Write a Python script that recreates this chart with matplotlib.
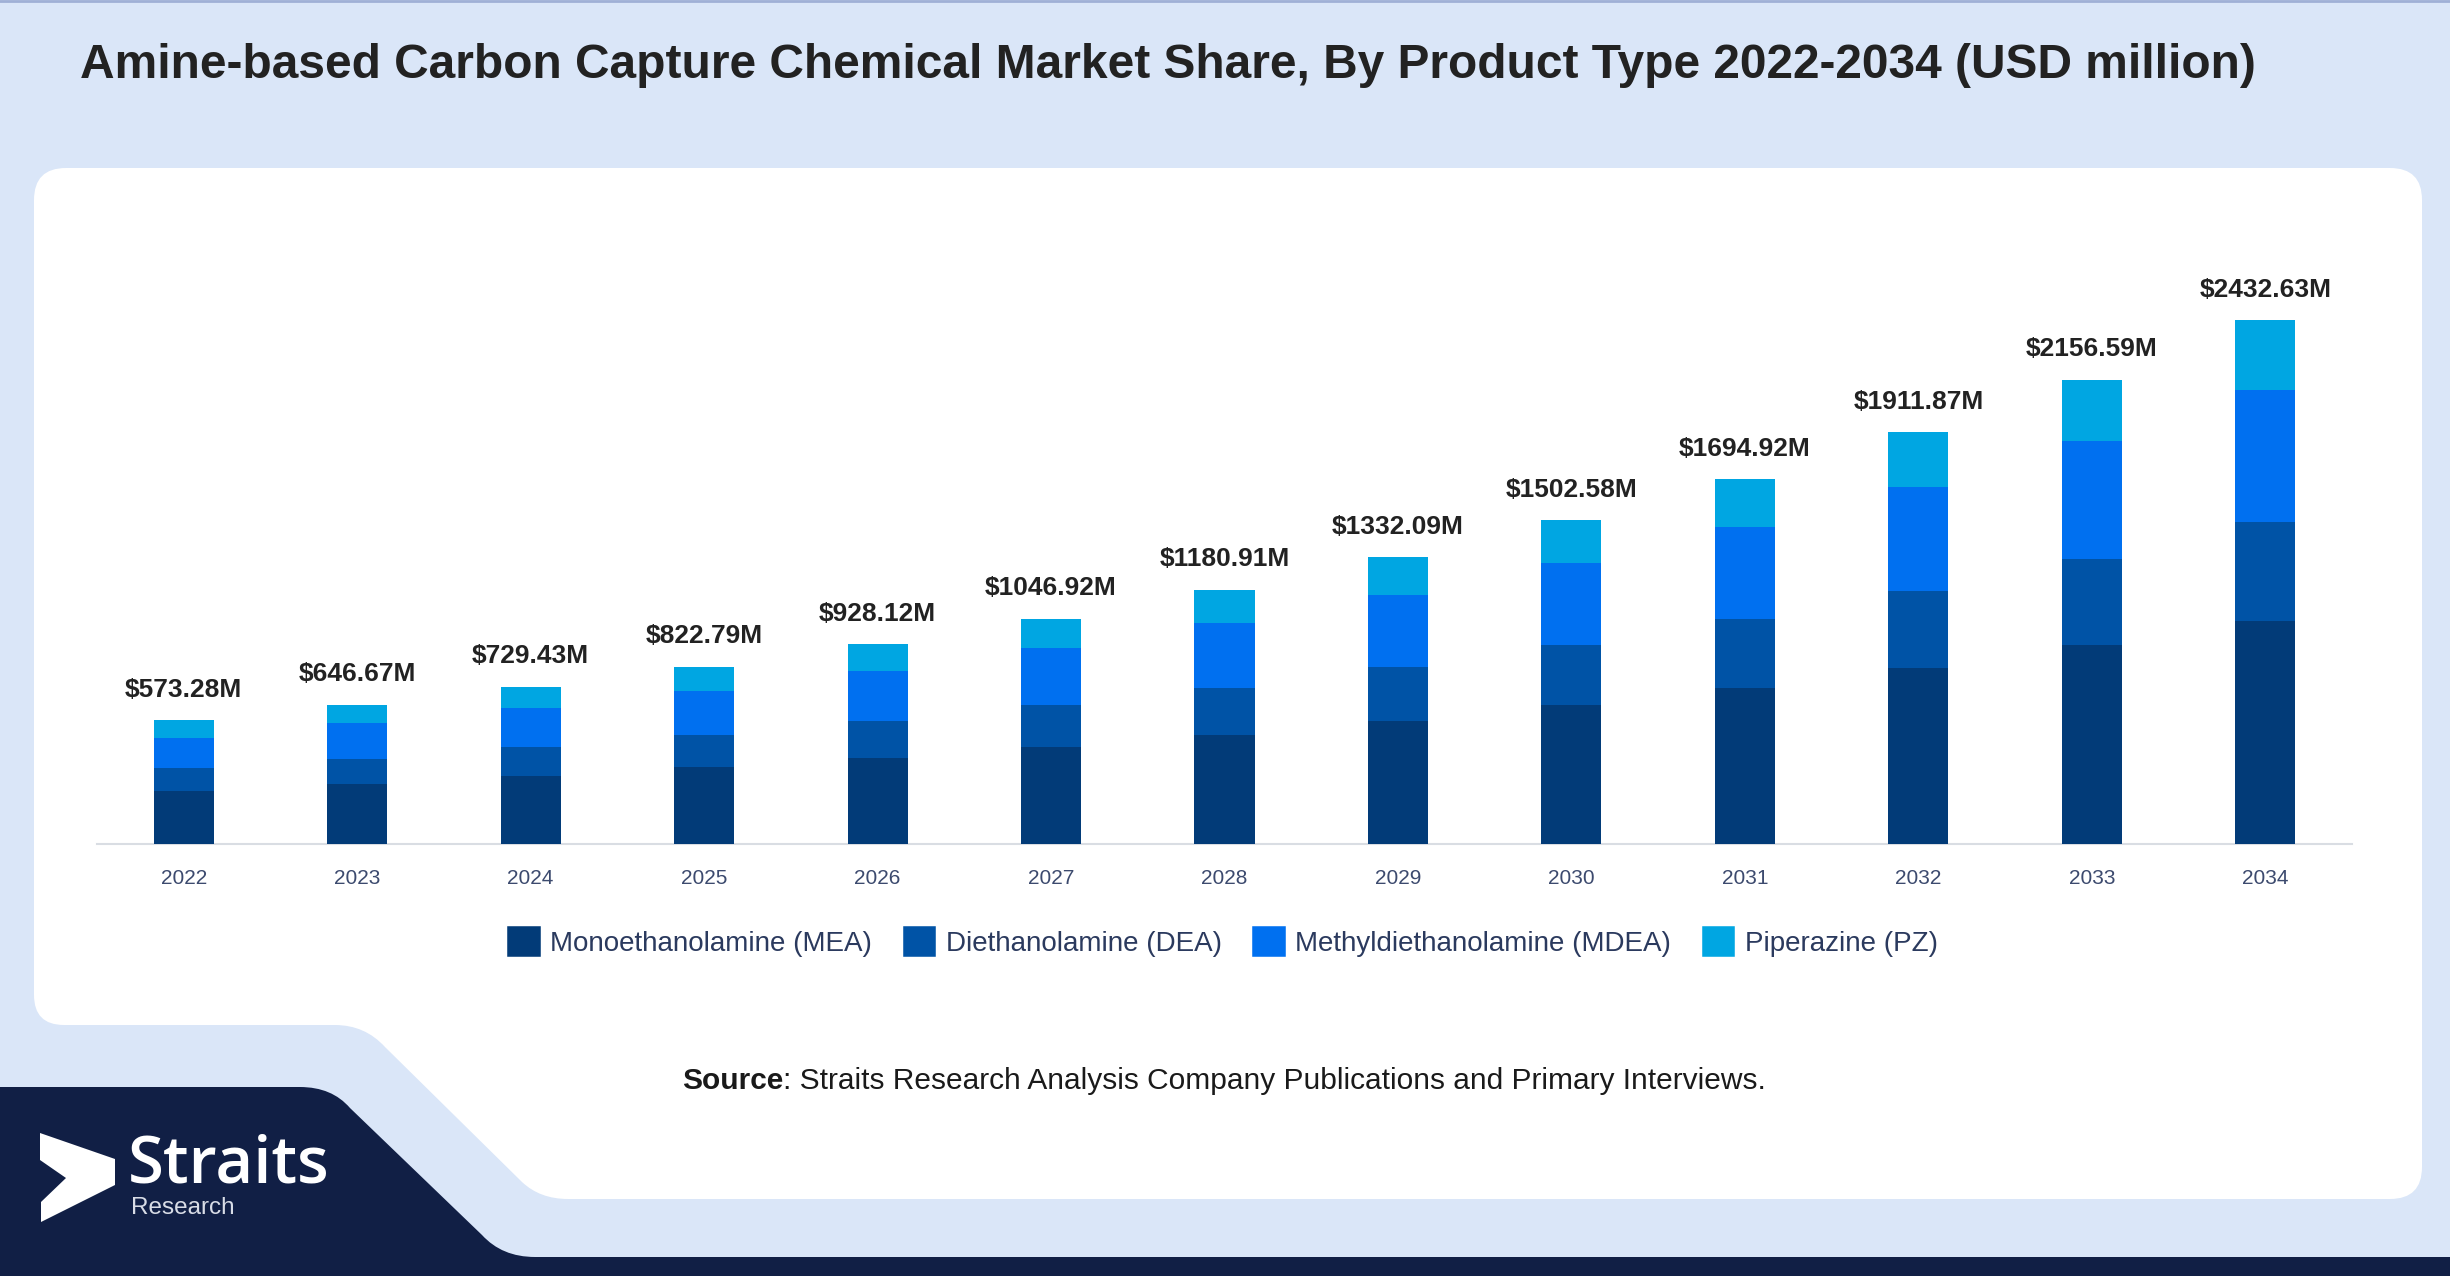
import numpy as np
import matplotlib.pyplot as plt
from matplotlib.patches import FancyBboxPatch, PathPatch, Patch, Polygon
from matplotlib.path import Path

plt.rcParams['font.family'] = ['Liberation Sans', 'DejaVu Sans']

# data (USD million)
YEARS = ["2022", "2023", "2024", "2025", "2026", "2027", "2028",
         "2029", "2030", "2031", "2032", "2033", "2034"]
TOTALS = [573.28, 646.67, 729.43, 822.79, 928.12, 1046.92, 1180.91,
          1332.09, 1502.58, 1694.92, 1911.87, 2156.59, 2432.63]
MEA = [246.1, 277.1, 313.9, 355.1, 396.9, 450.5, 507.0, 569.3, 645.1, 725.7, 816.4, 923.8, 1034.3]
DEA = [106.0, 118.7, 135.7, 151.4, 174.6, 193.7, 218.1, 250.5, 278.9, 319.3, 357.3, 398.2, 459.3]
MDEA = [141.0, 164.9, 180.0, 205.1, 229.7, 266.1, 301.9, 337.4, 381.1, 427.8, 484.2, 548.3, 616.4]
PZ = [80.2, 85.9, 99.7, 111.1, 126.9, 136.6, 153.9, 174.8, 197.5, 222.0, 254.0, 286.2, 322.6]
SERIES = ["Monoethanolamine (MEA)", "Diethanolamine (DEA)",
          "Methyldiethanolamine (MDEA)", "Piperazine (PZ)"]
COLORS = ["#023b78", "#0053a6", "#0070f0", "#00a6e2"]

TITLE = "Amine-based Carbon Capture Chemical Market Share, By Product Type 2022-2034 (USD million)"

W, H = 2450, 1276
LIGHT = "#dae6f8"
NAVY = "#111f45"

fig = plt.figure(figsize=(W / 100, H / 100), dpi=100, facecolor=LIGHT)

# background layer in pixel coordinates
bg = fig.add_axes([0, 0, 1, 1])
bg.set_xlim(0, W)
bg.set_ylim(H, 0)
bg.axis("off")

bg.plot([0, W], [1, 1], color="#9fb0d6", lw=2)

# white card
bg.add_patch(FancyBboxPatch((34, 168), 2388, 1031,
                            boxstyle="round,pad=0,rounding_size=32",
                            facecolor="white", edgecolor="none"))
# bottom-left notch of the card
notch = Path([(0, 985), (34, 985), (34, 995), (34, 1025), (64, 1025),
              (335, 1025), (365, 1025), (385, 1047), (522, 1182),
              (540, 1199), (568, 1199), (568, 1235), (0, 1235), (0, 985)],
             [Path.MOVETO, Path.LINETO, Path.LINETO, Path.CURVE3, Path.CURVE3,
              Path.LINETO, Path.CURVE3, Path.CURVE3, Path.LINETO,
              Path.CURVE3, Path.CURVE3, Path.LINETO, Path.LINETO, Path.CLOSEPOLY])
bg.add_patch(PathPatch(notch, facecolor=LIGHT, edgecolor="none"))

# navy footer
footer = Path([(0, 1087), (300, 1087), (332, 1087), (350, 1108), (482, 1235),
               (502, 1257), (535, 1257), (W, 1257), (W, H), (0, H), (0, 1087)],
              [Path.MOVETO, Path.LINETO, Path.CURVE3, Path.CURVE3, Path.LINETO,
               Path.CURVE3, Path.CURVE3, Path.LINETO, Path.LINETO, Path.LINETO,
               Path.CLOSEPOLY])
bg.add_patch(PathPatch(footer, facecolor=NAVY, edgecolor="none"))

# logo
bg.add_patch(Polygon([(40, 1133), (115, 1159), (115, 1185), (41, 1222),
                      (41, 1202), (66, 1178), (40, 1160)],
                     closed=True, facecolor="white", edgecolor="none"))
bg.text(128, 1166, "Straits", color="white", fontsize=47, fontweight="semibold",
        family=["Open Sans", "DejaVu Sans"], ha="left", va="center")
bg.text(131, 1208, "Research", color="#d8dce6", fontsize=17.5,
        ha="left", va="center")

# title
bg.text(80, 65, TITLE, fontsize=34.5, fontweight="bold", color="#222222",
        ha="left", va="center")

# source line: bold "Source" followed by regular text
src_y = 1081
renderer = fig.canvas.get_renderer()
t1 = bg.text(0, src_y, "Source", fontsize=21.5, fontweight="bold", color="#1a1a1a",
             ha="left", va="center")
t2 = bg.text(0, src_y, ": Straits Research Analysis Company Publications and Primary Interviews.",
             fontsize=21.5, color="#1a1a1a", ha="left", va="center")
w1 = t1.get_window_extent(renderer).width
w2 = t2.get_window_extent(renderer).width
x0 = 1224 - (w1 + w2) / 2
t1.set_x(x0)
t2.set_x(x0 + w1)

# chart
ax = fig.add_axes([97 / W, 1 - 843.7 / H, (2352 - 97) / W, 0.4720])
ax.set_facecolor("none")
x = np.arange(len(YEARS))
bottom = np.zeros(len(YEARS))
for vals, name, col in zip([MEA, DEA, MDEA, PZ], SERIES, COLORS):
    ax.bar(x, vals, 0.346, bottom=bottom, color=col, label=name, zorder=3)
    bottom += np.array(vals)

for i, tot in enumerate(TOTALS):
    ax.annotate(f"${tot:.2f}M", (x[i], bottom[i]), xytext=(0, 22),
                textcoords="offset points", ha="center", va="center",
                fontsize=19, fontweight="bold", color="#222222")

ax.set_xlim(-0.5, len(YEARS) - 0.5)
ax.set_ylim(0, 2800)
ax.set_xticks(x)
ax.set_xticklabels(YEARS, fontsize=15, color="#3c4a6e")
ax.tick_params(axis="x", length=0, pad=18)
ax.set_yticks([])
for s in ["top", "right", "left"]:
    ax.spines[s].set_visible(False)
ax.spines["bottom"].set_color("#d9dde3")
ax.spines["bottom"].set_linewidth(1.5)

handles = [Patch(facecolor=c, edgecolor=c, linewidth=4, joinstyle="round") for c in COLORS]
fig.legend(handles, SERIES, loc="center", bbox_to_anchor=(1224 / W, 1 - 943 / H),
           ncol=4, frameon=False, fontsize=20, labelcolor="#2b3a5e",
           handlelength=1.0, handleheight=1.0, handletextpad=0.45, columnspacing=1.2)

fig.savefig("out.png", dpi=100, facecolor=LIGHT)
